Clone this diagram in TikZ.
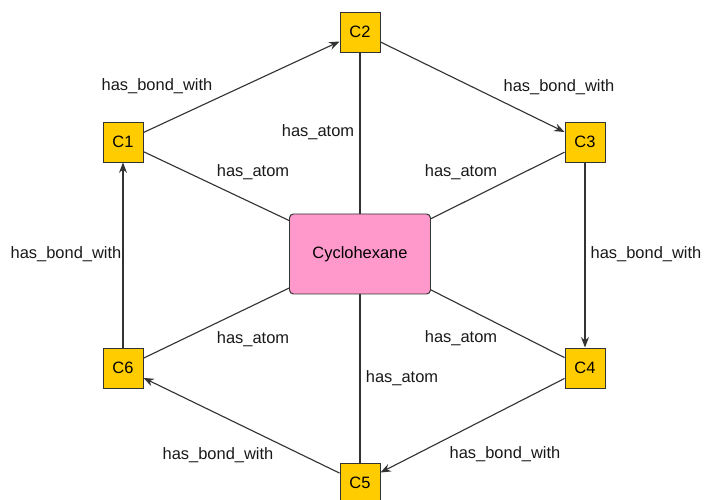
\documentclass[tikz,border=0pt]{standalone}
\usepackage{fontspec}
\setmainfont{Liberation Sans}
\usetikzlibrary{arrows.meta}
\definecolor{atomfill}{HTML}{FFCC00}
\definecolor{molfill}{HTML}{FF99CC}
\definecolor{linegray}{HTML}{333333}
\begin{document}
\begin{tikzpicture}[font=\fontsize{11.7}{14}\selectfont,
		atom/.style={draw=linegray, fill=atomfill, line width=0.7pt, minimum width=1cm, minimum height=1cm, inner sep=0pt},
		mol/.style={draw=linegray, fill=molfill, line width=0.7pt, rounded corners=0.1cm, minimum width=3.525cm, minimum height=2cm},
		bond/.style={draw=linegray, line width=0.8pt, -{Stealth[length=0.26cm, width=0.2cm]}},
		link/.style={draw=linegray, line width=0.8pt},
		lbl/.style={inner sep=0pt, text=black!90}]
		\useasboundingbox (-9, -6.15) rectangle (8.6, 6.35);

		\node[mol] (cyc) at (0, 0) {Cyclohexane};
		\node[atom] (C1) at (-5.925, 2.8) {C1};
		\node[atom] (C2) at (0, 5.55) {C2};
		\node[atom] (C3) at (5.625, 2.8) {C3};
		\node[atom] (C4) at (5.625, -2.85) {C4};
		\node[atom] (C5) at (0, -5.725) {C5};
		\node[atom] (C6) at (-5.925, -2.85) {C6};

		\path (cyc) edge[link] (C1)
		(cyc) edge[link] (C2)
		(cyc) edge[link] (C3)
		(cyc) edge[link] (C4)
		(cyc) edge[link] (C5)
		(cyc) edge[link] (C6);

		\path (C1) edge[bond] (C2)
		(C2) edge[bond] (C3)
		(C3) edge[bond] (C4)
		(C4) edge[bond] (C5)
		(C5) edge[bond] (C6)
		(C6) edge[bond] (C1);

		\node[lbl] (b12) at (-5.075, 4.2) {has\_bond\_with};
		\node[lbl] (b23) at (4.975, 4.175) {has\_bond\_with};
		\node[lbl] (b34) at (7.15, 0) {has\_bond\_with};
		\node[lbl] (b45) at (3.625, -5) {has\_bond\_with};
		\node[lbl] (b56) at (-3.55, -5.025) {has\_bond\_with};
		\node[lbl] (b61) at (-7.35, 0) {has\_bond\_with};

		\node[lbl] (a1) at (-2.675, 2.05) {has\_atom};
		\node[lbl] (a2) at (-1.05, 3.05) {has\_atom};
		\node[lbl] (a3) at (2.525, 2.05) {has\_atom};
		\node[lbl] (a4) at (2.525, -2.1) {has\_atom};
		\node[lbl] (a5) at (1.05, -3.1) {has\_atom};
		\node[lbl] (a6) at (-2.675, -2.125) {has\_atom};
	\end{tikzpicture}
\end{document}
